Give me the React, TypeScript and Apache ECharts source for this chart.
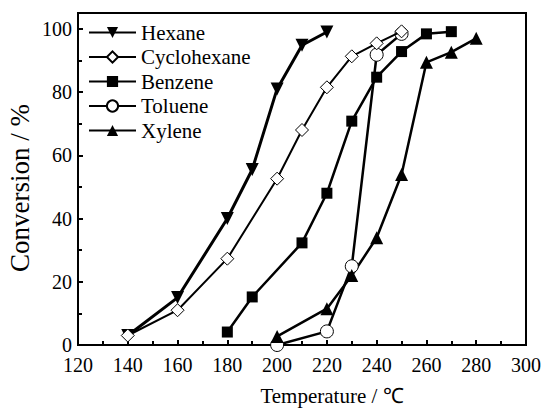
import React, { useEffect, useRef } from "react";
import * as echarts from "echarts";

const xTicks = [120, 140, 160, 180, 200, 220, 240, 260, 280, 300];
const hexane: [number, number][] = [[140, 3], [160, 15], [180, 40], [190, 55.5], [200, 81], [210, 94.8], [220, 99]];
const cyclohexane: [number, number][] = [[140, 3], [160, 11], [180, 27.3], [200, 52.6], [210, 68], [220, 81.5], [230, 91.3], [240, 95.4], [250, 99.2]];
const benzene: [number, number][] = [[180, 4.1], [190, 15.2], [210, 32.3], [220, 48], [230, 70.8], [240, 84.7], [250, 92.8], [260, 98.4], [270, 99.1]];
const toluene: [number, number][] = [[200, 0], [220, 4.3], [230, 24.9], [240, 91.8], [250, 98.4]];
const xylene: [number, number][] = [[200, 2.7], [220, 11.5], [230, 22], [240, 33.9], [250, 53.9], [260, 89.4], [270, 92.6], [280, 97]];

const FONT = "Liberation Serif";

export default function App() {
  const ref = useRef<HTMLDivElement>(null);
  useEffect(() => {
    const chart = echarts.init(ref.current!, null, { renderer: "svg" });
    const mk = (name: string, data: [number, number][], symbol: string, size: number, filled: boolean, rotate = 0, lw = 2.5, z = 2) => ({
      name,
      type: "line",
      data,
      symbol,
      symbolSize: size,
      symbolRotate: rotate,
      showAllSymbol: true,
      clip: false,
      z,
      lineStyle: { color: "#000", width: lw },
      itemStyle: filled
        ? { color: "#000", borderColor: "#000", borderWidth: 0 }
        : { color: "#fff", borderColor: "#000", borderWidth: 1 },
      emphasis: { disabled: true },
    });
    chart.setOption({
      animation: false,
      backgroundColor: "#fff",
      grid: { left: 78, right: 16, top: 13, bottom: 63, show: true, borderColor: "#000", borderWidth: 2 },
      legend: {
        orient: "vertical",
        left: 88,
        top: 22,
        padding: 0,
        itemWidth: 47,
        itemHeight: 14,
        itemGap: 3.5,
        textStyle: { fontFamily: FONT, fontSize: 21, color: "#000" },
        data: ["Hexane", "Cyclohexane", "Benzene", "Toluene", "Xylene"],
      },
      xAxis: {
        type: "value",
        min: xTicks[0],
        max: xTicks[xTicks.length - 1],
        interval: 20,
        axisLine: { lineStyle: { color: "#000", width: 2 } },
        axisTick: { inside: true, length: 5, lineStyle: { color: "#000", width: 2 } },
        minorTick: { show: true, splitNumber: 2, length: 4, lineStyle: { color: "#000", width: 2 } },
        splitLine: { show: false },
        axisLabel: { fontFamily: FONT, fontSize: 20, color: "#000", margin: 10, lineHeight: 20 },
      },
      yAxis: {
        type: "value",
        min: 0,
        max: 105,
        interval: 20,
        axisLine: { show: true, lineStyle: { color: "#000", width: 2 } },
        axisTick: { show: true, inside: true, length: 5, lineStyle: { color: "#000", width: 2 } },
        minorTick: { show: true, splitNumber: 2, length: 4, lineStyle: { color: "#000", width: 2 } },
        splitLine: { show: false },
        axisLabel: { fontFamily: FONT, fontSize: 20, color: "#000", margin: 6, lineHeight: 16, showMaxLabel: false },
      },
      graphic: [
        {
          type: "text",
          x: 20,
          y: 188,
          rotation: Math.PI / 2,
          style: { text: "Conversion / %", fontFamily: FONT, fontSize: 27, fill: "#000", textAlign: "center", textVerticalAlign: "middle" },
        },
        {
          type: "text",
          x: 332,
          y: 396,
          style: { text: "Temperature / ℃", fontFamily: FONT, fontSize: 21, lineHeight: 21, fill: "#000", textAlign: "center", textVerticalAlign: "middle" },
        },
      ],
      series: [
        mk("Hexane", hexane, "triangle", 13, true, 180, 3),
        mk("Cyclohexane", cyclohexane, "diamond", 13, false, 0, 2, 4),
        mk("Benzene", benzene, "rect", 11, true),
        mk("Toluene", toluene, "circle", 13, false),
        mk("Xylene", xylene, "triangle", 13, true),
      ],
    });
    return () => chart.dispose();
  }, []);
  return <div ref={ref} style={{ width: 544, height: 408, position: "absolute", left: 0, top: 0 }} />;
}
